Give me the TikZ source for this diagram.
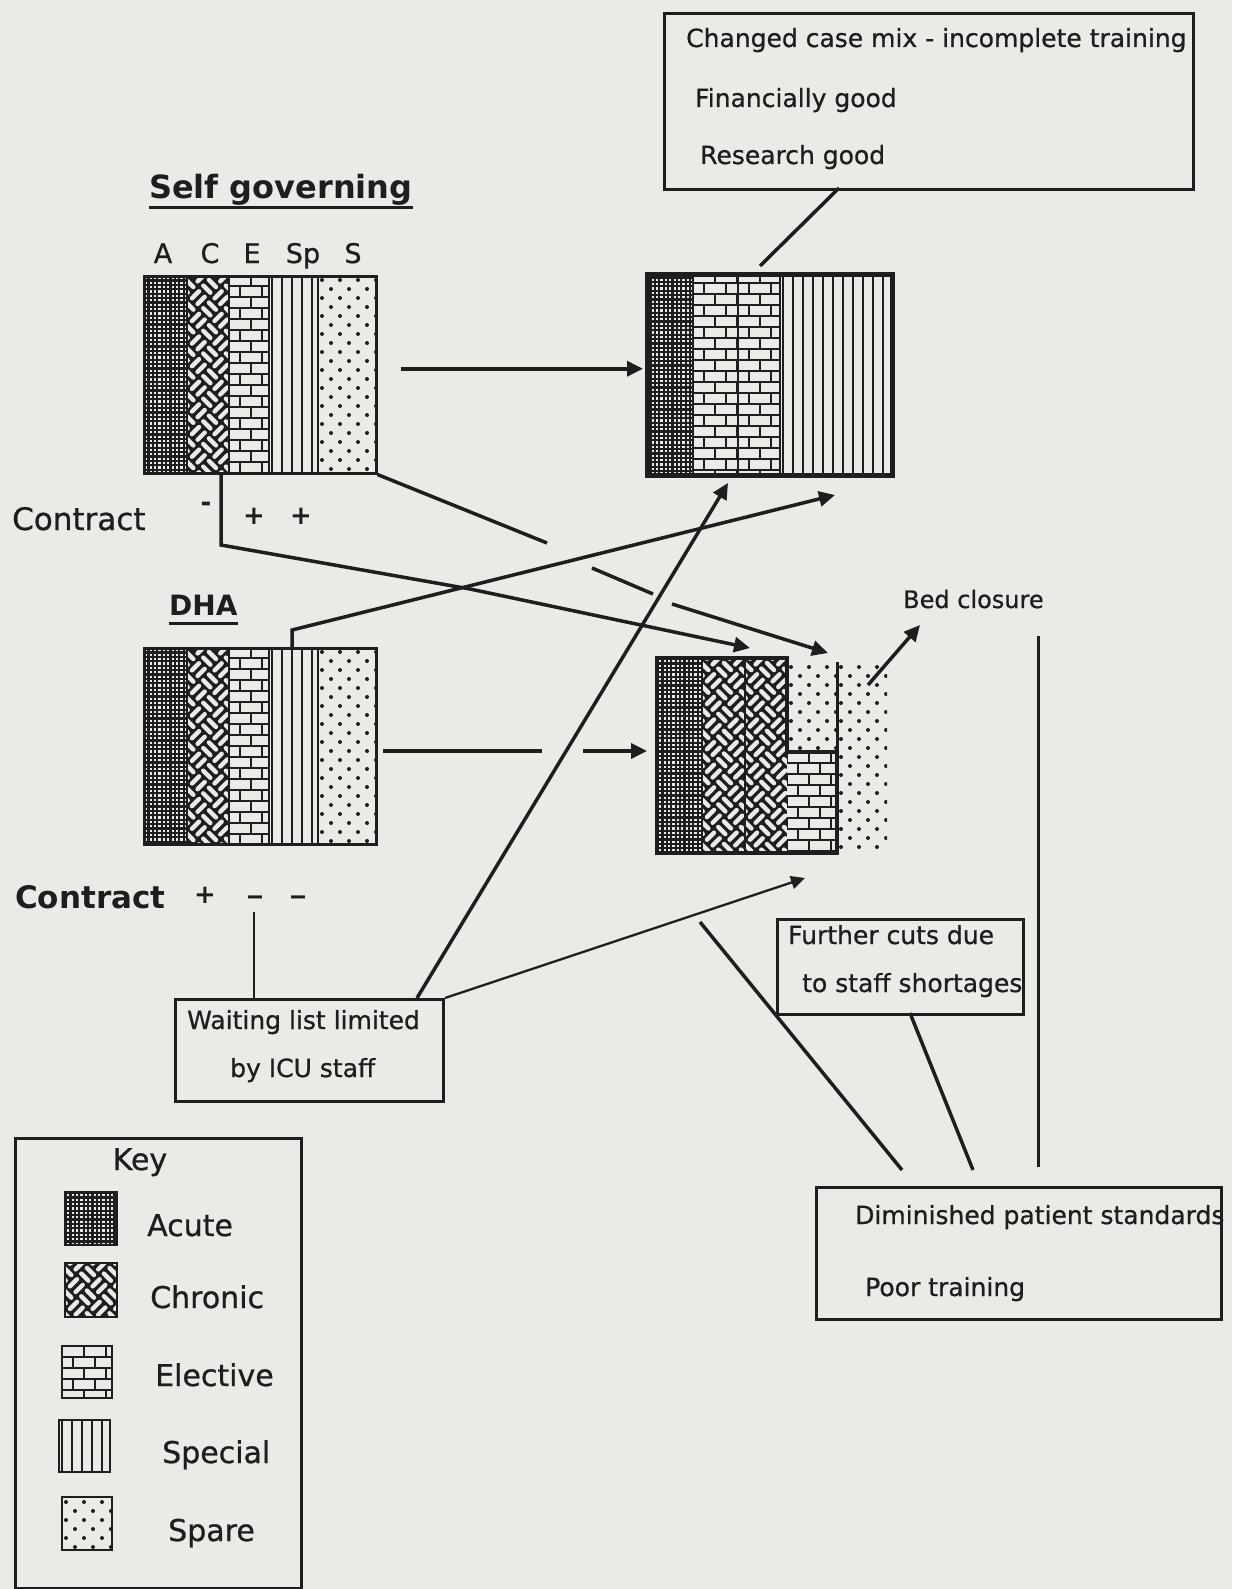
\documentclass[tikz,border=0pt]{standalone}
\usepackage{fontspec}
\setmainfont{DejaVu Sans}[UprightFeatures={FakeBold=0.8}]
\usetikzlibrary{arrows.meta,positioning}
\definecolor{paper}{RGB}{234,234,231}
\definecolor{ink}{RGB}{30,30,30}

\newcommand{\acutefill}[4]{%
  \begin{scope}
    \clip (#1,#2) rectangle (#3,#4);
    \fill[paper] (#1,#2) rectangle (#3,#4);
    \foreach \k in {0,...,60} {
      \draw[ink,line width=2.2pt] (#1+1+\k*4.4,#2) -- (#1+1+\k*4.4,#4);
      \draw[ink,line width=2.2pt] (#1,#2+1+\k*4.4) -- (#3,#2+1+\k*4.4);
    }
  \end{scope}}
\newcommand{\chronicfill}[4]{%
  \begin{scope}
    \clip (#1,#2) rectangle (#3,#4);
    \fill[ink] (#1,#2) rectangle (#3,#4);
    \begin{scope}[shift={(#1,#2)},rotate=45]
      \foreach \i in {-10,...,5} {
        \foreach \j in {-1,...,14} {
          \pgfmathtruncatemacro\wpar{mod(\i+\j+40,2)}
          \ifnum\wpar=0
            \draw[paper,line width=4.4pt,line cap=round]
              (\i*16+3,\j*16+4) -- (\i*16+13,\j*16+4)
              (\i*16+3,\j*16+12) -- (\i*16+13,\j*16+12);
          \else
            \draw[paper,line width=4.4pt,line cap=round]
              (\i*16+4,\j*16+3) -- (\i*16+4,\j*16+13)
              (\i*16+12,\j*16+3) -- (\i*16+12,\j*16+13);
          \fi
        }
      }
    \end{scope}
  \end{scope}}
\newcommand{\electivefill}[4]{%
  \begin{scope}
    \clip (#1,#2) rectangle (#3,#4);
    \fill[paper] (#1,#2) rectangle (#3,#4);
    \foreach \j in {0,...,20} {
      \draw[ink,line width=2.6pt] (#1,#2+\j*11) -- (#3,#2+\j*11);
      \pgfmathsetmacro\bofs{mod(\j,2)*11}
      \foreach \i in {0,...,6}
        \draw[ink,line width=2.6pt] (#1+\bofs+\i*22,#2+\j*11) -- ++(0,11);
    }
  \end{scope}}
\newcommand{\specialfill}[4]{%
  \begin{scope}
    \clip (#1,#2) rectangle (#3,#4);
    \fill[paper] (#1,#2) rectangle (#3,#4);
    \foreach \k in {0,...,30}
      \draw[ink,line width=2pt] (#1+3+\k*10,#2) -- (#1+3+\k*10,#4);
  \end{scope}}
\newcommand{\sparefill}[4]{%
  \begin{scope}
    \clip (#1,#2) rectangle (#3,#4);
    \fill[paper] (#1,#2) rectangle (#3,#4);
    \foreach \j in {0,...,24} {
      \pgfmathsetmacro\sofs{mod(\j,2)*9}
      \foreach \i in {0,...,6}
        \fill[ink] (#1+4+\sofs+\i*18,#2+5+\j*9) circle (2pt);
    }
  \end{scope}}

\tikzset{
  conn/.style={ink,line width=3.5pt},
  thinconn/.style={ink,line width=2.3pt},
  arr/.style={conn,-{Triangle[length=16pt,width=15pt]}},
  thinarr/.style={thinconn,-{Triangle[length=14pt,width=13pt]}},
  chart/.style={draw=ink,line width=2.5pt,inner sep=0pt,anchor=north west},
  heavychart/.style={chart,line width=4.5pt},
  textbox/.style={draw=ink,line width=3pt,inner sep=0pt,anchor=north west},
  swatch/.style={draw=ink,line width=2pt},
  txt/.style={inner sep=0pt,anchor=base west,text=ink,font=\fontsize{25}{30}\selectfont},
  bigtxt/.style={txt,font=\fontsize{31}{36}\selectfont},
  keytxt/.style={txt,font=\fontsize{30}{36}\selectfont},
  headtxt/.style={txt,font=\fontsize{32}{38}\selectfont\bfseries},
  collbl/.style={txt,anchor=base,font=\fontsize{27}{32}\selectfont},
  sign/.style={inner sep=0pt,text=ink,font=\fontsize{26}{30}\selectfont\bfseries},
}

\begin{document}
\begin{tikzpicture}[x=1pt,y=-1pt]
  \useasboundingbox (0,0) rectangle (1232,1589);
  \fill[paper] (0,0) rectangle (1232,1589);

  % top box
  \node[textbox,minimum width=529pt,minimum height=176pt] (mix) at (663,12) {};
  \node[txt] (mixa) at (686,47) {Changed case mix - incomplete training};
  \node[txt] (mixb) at (695,107) {Financially good};
  \node[txt] (mixc) at (700,164) {Research good};

  % self governing
  \node[headtxt] (sgtitle) at (149,199) {Self governing};
  \draw[ink,line width=3pt] ([yshift=-9pt]sgtitle.base west) -- ([yshift=-9pt]sgtitle.base east);
  \foreach \lbl/\xx in {A/163,C/210,E/252,Sp/303,S/353}
    \node[collbl] (col\lbl) at (\xx,263) {\lbl};

  \acutefill{143}{275}{187}{472}
  \chronicfill{187}{275}{229}{472}
  \electivefill{229}{275}{269}{472}
  \specialfill{269}{275}{318}{472}
  \sparefill{318}{275}{375}{472}
  \foreach \xx in {187,229,269,318}
    \draw[ink,line width=2pt] (\xx,275) -- (\xx,472);
  \node[chart,minimum width=232pt,minimum height=197pt] (sgl) at (143,275) {};

  \acutefill{645}{272}{693}{473}
  \electivefill{693}{272}{738}{473}
  \electivefill{738}{272}{780}{473}
  \specialfill{780}{272}{890}{473}
  \draw[ink,line width=2.5pt] (693,272) -- (693,473) (738,272) -- (738,473) (780,272) -- (780,473);
  \node[heavychart,minimum width=245pt,minimum height=201pt] (sgr) at (645,272) {};

  % DHA
  \node[txt,font=\fontsize{28}{32}\selectfont\bfseries] (dhatitle) at (169,615) {DHA};
  \draw[ink,line width=3pt] ([yshift=-8pt]dhatitle.base west) -- ([yshift=-8pt]dhatitle.base east);

  \acutefill{143}{647}{187}{843}
  \chronicfill{187}{647}{229}{843}
  \electivefill{229}{647}{269}{843}
  \specialfill{269}{647}{318}{843}
  \sparefill{318}{647}{375}{843}
  \foreach \xx in {187,229,269,318}
    \draw[ink,line width=2pt] (\xx,647) -- (\xx,843);
  \node[chart,minimum width=232pt,minimum height=196pt] (dhl) at (143,647) {};

  \acutefill{657}{658}{702}{853}
  \chronicfill{702}{658}{745}{853}
  \chronicfill{745}{658}{787}{853}
  \sparefill{787}{662}{837}{752}
  \electivefill{787}{752}{837}{853}
  \sparefill{837}{662}{887}{853}
  \draw[ink,line width=2.5pt] (702,658) -- (702,853) (745,658) -- (745,853);
  \draw[ink,line width=3pt] (837,662) -- (837,752);
  \draw[ink,line width=4.5pt] (657,658) -- (787,658) -- (787,752) -- (837,752) -- (837,853) -- (657,853) -- cycle;

  % contract labels
  \node[bigtxt] (contra) at (12,530) {Contract};
  \node[sign] (minusa) at (206,507) {-};
  \node[sign] (plusa) at (254,516) {+};
  \node[sign] (plusb) at (301,516) {+};
  \node[bigtxt,font=\fontsize{31}{36}\selectfont\bfseries] (contrb) at (15,908) {Contract};
  \node[sign] (plusc) at (205,895) {+};
  \node[sign,font=\fontsize{34}{38}\selectfont] (minusb) at (255,901) {–};
  \node[sign,font=\fontsize{34}{38}\selectfont] (minusc) at (298,901) {–};

  % text boxes
  \node[textbox,minimum width=268pt,minimum height=102pt] (wait) at (174,998) {};
  \node[txt] (waita) at (187,1029) {Waiting list limited};
  \node[txt] (waitb) at (230,1077) {by ICU staff};
  \node[textbox,minimum width=246pt,minimum height=95pt] (cuts) at (776,918) {};
  \node[txt] (cutsa) at (788,944) {Further cuts due};
  \node[txt] (cutsb) at (802,992) {to staff shortages};
  \node[textbox,minimum width=405pt,minimum height=132pt] (dimin) at (815,1186) {};
  \node[txt] (dimina) at (855,1224) {Diminished patient standards};
  \node[txt] (diminb) at (865,1296) {Poor training};
  \node[txt,font=\fontsize{24}{30}\selectfont] (bed) at (903,608) {Bed closure};

  % connector ends
  \coordinate (mixfoot) at (839,188);
  \coordinate (sgrtop) at (760,266);
  \coordinate (sgcut) at (221,472);
  \coordinate (sgbend) at (221,545);
  \coordinate (cross) at (470,589);
  \coordinate (dhracute) at (750,648);
  \coordinate (dhafoot) at (292,647);
  \coordinate (dhabend) at (292,630);
  \coordinate (sgrspec) at (835,495);
  \coordinate (spareA) at (547,543);
  \coordinate (spareB) at (592,568);
  \coordinate (spareC) at (653,594);
  \coordinate (spareD) at (672,604);
  \coordinate (dhrspare) at (828,653);
  \coordinate (waitlong) at (417,998);
  \coordinate (sgrfoot) at (728,483);
  \coordinate (dhrfoot) at (805,878);
  \coordinate (dashfoot) at (254,912);
  \coordinate (dashwait) at (254,998);
  \coordinate (bedfrom) at (868,685);
  \coordinate (bedto) at (920,625);
  \coordinate (railtop) at (1038,636);
  \coordinate (railfoot) at (1038,1167);
  \coordinate (slashtop) at (700,922);
  \coordinate (slashfoot) at (902,1170);
  \coordinate (cutsfoot) at (910,1013);
  \coordinate (cutsend) at (973,1170);
  \coordinate (dhlout) at (383,751);
  \coordinate (dhlgapa) at (542,751);
  \coordinate (dhlgapb) at (583,751);
  \coordinate (dhrwest) at (647,751);

  % connectors
  \draw[conn] (mixfoot) -- (sgrtop);
  \draw[arr] ([xshift=23pt,yshift=6pt]sgl.east) -- ([xshift=-2pt,yshift=6pt]sgr.west);
  \draw[conn] (dhlout) -- (dhlgapa);
  \draw[arr] (dhlgapb) -- (dhrwest);
  \draw[arr] (sgcut) -- (sgbend) -- (cross) -- (dhracute);
  \draw[arr] (dhafoot) -- (dhabend) -- (sgrspec);
  \draw[conn] (sgl.south east) -- (spareA);
  \draw[conn] (spareB) -- (spareC);
  \draw[arr] (spareD) -- (dhrspare);
  \draw[arr] (waitlong) -- (sgrfoot);
  \draw[thinarr] (wait.north east) -- (dhrfoot);
  \draw[thinconn,line width=2.6pt] (dashfoot) -- (dashwait);
  \draw[arr] (bedfrom) -- (bedto);
  \draw[conn,line width=3pt] (railtop) -- (railfoot);
  \draw[conn] (slashtop) -- (slashfoot);
  \draw[conn] (cutsfoot) -- (cutsend);

  % key
  \node[textbox,line width=2.5pt,minimum width=286pt,minimum height=450pt] (keybox) at (14,1137) {};
  \node[keytxt,anchor=base] (keyhead) at (140,1170) {Key};
  \acutefill{65}{1192}{117}{1245}
  \draw[swatch] (65,1192) rectangle (117,1245);
  \chronicfill{65}{1263}{117}{1317}
  \draw[swatch] (65,1263) rectangle (117,1317);
  \electivefill{62}{1346}{112}{1398}
  \draw[swatch] (62,1346) rectangle (112,1398);
  \specialfill{59}{1420}{110}{1472}
  \draw[swatch] (59,1420) rectangle (110,1472);
  \sparefill{62}{1497}{112}{1550}
  \draw[swatch] (62,1497) rectangle (112,1550);
  \node[keytxt] (keyacute) at (147,1236) {Acute};
  \node[keytxt] (keychronic) at (150,1308) {Chronic};
  \node[keytxt] (keyelective) at (155,1386) {Elective};
  \node[keytxt] (keyspecial) at (162,1463) {Special};
  \node[keytxt] (keyspare) at (168,1541) {Spare};
\end{tikzpicture}
\end{document}
